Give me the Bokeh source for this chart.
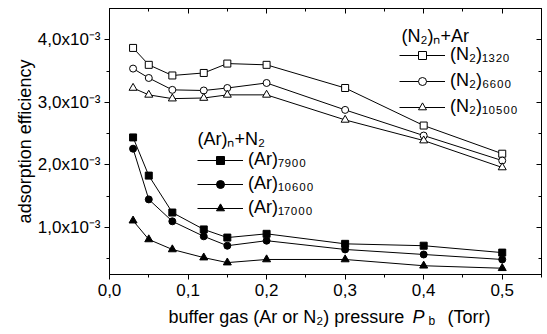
from bokeh.plotting import figure
from bokeh.layouts import column
from bokeh.models import FixedTicker, LinearAxis, Legend, LegendItem, Label, Range1d
from bokeh.embed import file_html
from bokeh.resources import INLINE

# ---- data ----
pressure = [0.03, 0.05, 0.08, 0.12, 0.15, 0.20, 0.30, 0.40, 0.50]
n2_1320 = [3.87e-3, 3.60e-3, 3.43e-3, 3.47e-3, 3.62e-3, 3.60e-3, 3.23e-3, 2.63e-3, 2.18e-3]
n2_6600 = [3.54e-3, 3.39e-3, 3.20e-3, 3.19e-3, 3.23e-3, 3.31e-3, 2.88e-3, 2.47e-3, 2.07e-3]
n2_10500 = [3.23e-3, 3.12e-3, 3.06e-3, 3.07e-3, 3.12e-3, 3.12e-3, 2.72e-3, 2.39e-3, 1.96e-3]
ar_7900 = [2.44e-3, 1.83e-3, 1.24e-3, 0.97e-3, 0.84e-3, 0.90e-3, 0.74e-3, 0.71e-3, 0.60e-3]
ar_10600 = [2.26e-3, 1.45e-3, 1.10e-3, 0.86e-3, 0.71e-3, 0.79e-3, 0.65e-3, 0.57e-3, 0.49e-3]
ar_17000 = [1.11e-3, 0.81e-3, 0.65e-3, 0.52e-3, 0.44e-3, 0.49e-3, 0.49e-3, 0.39e-3, 0.35e-3]

n2_labels = ["(N₂)₁₃₂₀", "(N₂)₆₆₀₀", "(N₂)₁₀₅₀₀"]
ar_labels = ["(Ar)₇₉₀₀", "(Ar)₁₀₆₀₀", "(Ar)₁₇₀₀₀"]
n2_title = "(N₂)ₙ+Ar"
ar_title = "(Ar)ₙ+N₂"

x_ticks = [0.0, 0.1, 0.2, 0.3, 0.4, 0.5]
x_tick_labels = ["0,0", "0,1", "0,2", "0,3", "0,4", "0,5"]
x_minor = [0.05, 0.15, 0.25, 0.35, 0.45, 0.55]
y_ticks = [1e-3, 2e-3, 3e-3, 4e-3]
y_tick_labels = ["1,0x10⁻³", "2,0x10⁻³", "3,0x10⁻³", "4,0x10⁻³"]
y_minor = [0.5e-3, 1.5e-3, 2.5e-3, 3.5e-3]

FONT = "Liberation Sans"
X0, X1 = 0.0, 0.55
Y0, Y1 = 0.25e-3, 4.5e-3
W = 547
H1, H2 = 304, 30
BL, BR, BT, BB = 109, 6, 8, 30
FW, FH = W - BL - BR, H1 - BT - BB

p = figure(width=W, height=H1, x_range=Range1d(X0, X1), y_range=Range1d(Y0, Y1),
           output_backend="svg", toolbar_location=None,
           min_border_left=BL, min_border_right=BR, min_border_top=BT, min_border_bottom=BB)
p.grid.visible = False
p.outline_line_color = "black"
p.outline_line_width = 1
p.background_fill_color = "white"
p.border_fill_color = "white"

xt = FixedTicker(ticks=x_ticks, minor_ticks=x_minor)
yt = FixedTicker(ticks=y_ticks, minor_ticks=y_minor)

for ax in p.xaxis:
    ax.ticker = xt
    ax.major_label_overrides = {t: l for t, l in zip(x_ticks, x_tick_labels)}
for ax in p.yaxis:
    ax.ticker = yt
    ax.major_label_overrides = {t: l for t, l in zip(y_ticks, y_tick_labels)}

for ax in p.axis:
    ax.axis_line_color = "black"
    ax.major_tick_line_color = "black"
    ax.minor_tick_line_color = "black"
    ax.major_tick_in = 0
    ax.major_tick_out = 5
    ax.minor_tick_in = 0
    ax.minor_tick_out = 3
    ax.major_label_text_font = FONT
    ax.major_label_text_font_size = "17px"
    ax.major_label_text_color = "black"
    ax.axis_label_text_font = FONT
    ax.axis_label_text_font_size = "18px"
    ax.axis_label_text_font_style = "normal"
    ax.axis_label_text_color = "black"

p.xaxis.major_label_standoff = 4
p.yaxis.major_label_standoff = 4
p.yaxis.axis_label = "adsorption efficiency"
p.yaxis.axis_label_standoff = 0

top = LinearAxis(ticker=xt, major_label_text_font_size="0px", major_label_standoff=0,
                 major_tick_in=5, major_tick_out=0, minor_tick_in=3, minor_tick_out=0,
                 axis_line_color="black")
top.major_label_overrides = {t: "" for t in x_ticks}
right = LinearAxis(ticker=yt, major_label_text_font_size="0px", major_label_standoff=0,
                   major_tick_in=5, major_tick_out=0, minor_tick_in=3, minor_tick_out=0,
                   axis_line_color="black")
right.major_label_overrides = {t: "" for t in y_ticks}
p.add_layout(top, "above")
p.add_layout(right, "right")

def series(y, marker, fill, size):
    ln = p.line(pressure, y, line_color="black", line_width=1)
    sc = p.scatter(pressure, y, marker=marker, size=size, fill_color=fill,
                   line_color="black", line_width=1)
    return [ln, sc]

n2_r = [series(n2_1320, "square", "white", 7),
        series(n2_6600, "circle", "white", 7),
        series(n2_10500, "triangle", "white", 8)]
ar_r = [series(ar_7900, "square", "black", 7),
        series(ar_10600, "circle", "black", 7),
        series(ar_17000, "triangle", "black", 8)]

def make_legend(labels, rends, loc, spacing):
    lg = Legend(items=[LegendItem(label=l, renderers=r) for l, r in zip(labels, rends)],
                location=loc, padding=0, margin=0, spacing=spacing,
                glyph_width=46, glyph_height=20, label_height=20, label_standoff=5,
                label_text_font=FONT, label_text_font_size="18px", label_text_color="black",
                background_fill_alpha=0, border_line_color=None)
    p.add_layout(lg)

make_legend(n2_labels, n2_r, (290, 157), 5)
make_legend(ar_labels, ar_r, (88, 56), 3)

# helpers: pixel offsets from the main frame's bottom-left -> data units
def fx(px):
    return X0 + px * (X1 - X0) / FW

def fy(px):
    return Y0 + px * (Y1 - Y0) / FH

def title_label(dx, dy, text):
    p.add_layout(Label(x=fx(dx), y=fy(dy), text=text, text_font=FONT, text_font_size="18px",
                       text_color="black", text_baseline="alphabetic", text_align="left"))

title_label(292, 239, n2_title)
title_label(88, 136, ar_title)

# ---- strip below the plot that carries the x-axis title (rich text) ----
# its frame is aligned with the main frame by the column layout
p2 = figure(width=W, height=H2, x_range=Range1d(0, FW), y_range=Range1d(0, H2),
            output_backend="svg", toolbar_location=None, x_axis_type=None, y_axis_type=None,
            min_border_left=BL, min_border_right=BR, min_border_top=0, min_border_bottom=0)
p2.grid.visible = False
p2.outline_line_color = None
p2.background_fill_color = "white"
p2.border_fill_color = "white"

def lab(x, y, text, size="18px", style="normal"):
    p2.add_layout(Label(x=x, y=y, text=text,
                        text_font=FONT, text_font_size=size, text_font_style=style,
                        text_color="black", text_baseline="alphabetic", text_align="left"))

lab(59, 18, "buffer gas (Ar or N₂) pressure")
lab(303, 18, "P", style="italic")
lab(319, 14, "b", size="12px")
lab(338, 18, "(Torr)")

open("out.html", "w").write(file_html(column(p, p2), INLINE))
